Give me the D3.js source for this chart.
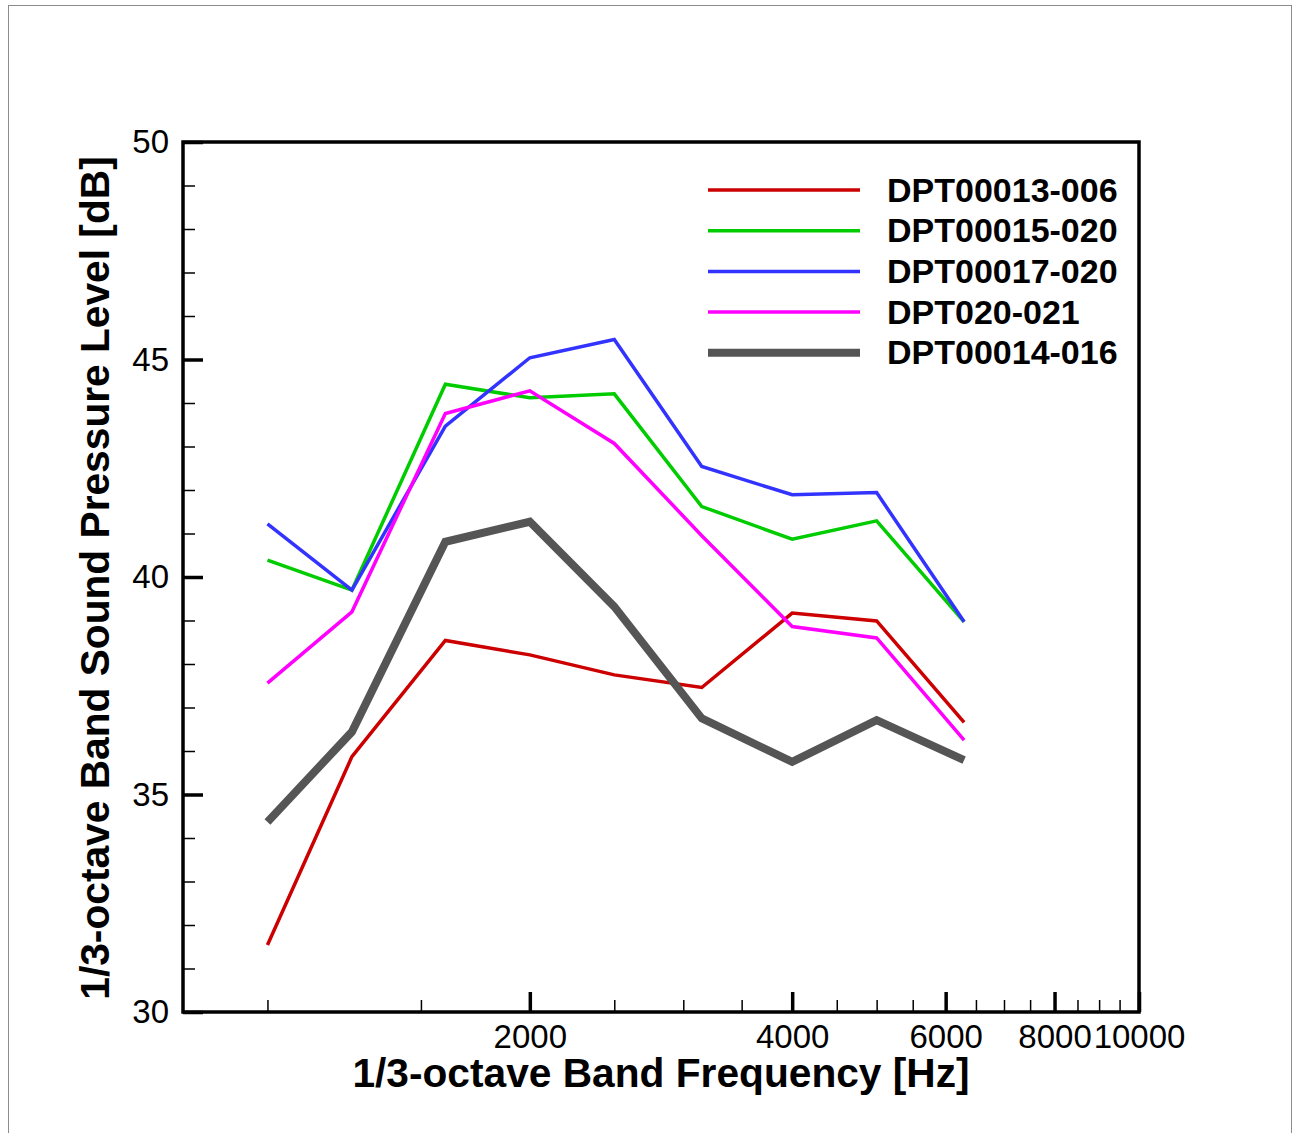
<!DOCTYPE html>
<html>
<head>
<meta charset="utf-8">
<script src="https://cdn.jsdelivr.net/npm/d3@7"></script>
<style>
  body { margin: 0; background: #fff; }
  svg { display: block; font-family: "Liberation Sans", Arial, sans-serif; }
  .tick text { font-size: 33px; fill: #000; }
</style>
</head>
<body>
<svg id="chart" width="1294" height="1133"></svg>
<script>
// 1/3-octave band centre frequencies [Hz]
var freqs = [1000, 1250, 1600, 2000, 2500, 3150, 4000, 5000, 6300];

// sound pressure level per band [dB]
var dpt13_006 = [31.54, 35.87, 38.54, 38.21, 37.75, 37.46, 39.17, 38.99, 36.66];
var dpt15_020 = [40.39, 39.70, 44.43, 44.12, 44.21, 41.62, 40.87, 41.29, 38.97];
var dpt17_020 = [41.22, 39.70, 43.47, 45.04, 45.46, 42.54, 41.89, 41.94, 38.97];
var dpt20_021 = [37.56, 39.20, 43.76, 44.28, 43.07, 40.95, 38.86, 38.60, 36.25];
var dpt14_016 = [34.37, 36.44, 40.81, 41.27, 39.32, 36.75, 35.75, 36.71, 35.79];

var seriesNames = ["DPT00013-006", "DPT00015-020", "DPT00017-020", "DPT020-021", "DPT00014-016"];
var seriesValues = [dpt13_006, dpt15_020, dpt17_020, dpt20_021, dpt14_016];
var seriesColors = ["#cc0000", "#00cc00", "#3333ff", "#ff00ff", "#555555"];
var seriesWidths = [3.5, 3.5, 3.5, 3.5, 8];

var xMajorTicks = [2000, 4000, 6000, 8000, 10000];
var xMinorTicks = d3.range(1000, 10000, 500).filter(function(f) { return f % 2000 !== 0; });
var yMajorTicks = [30, 35, 40, 45, 50];
var yMinorTicks = d3.range(31, 50).filter(function(v) { return v % 5 !== 0; });

(function() {
  var svg = d3.select("#chart");

  var left = 183, right = 1139, top = 142, bottom = 1012;

  var x = d3.scaleLog()
    .domain([800, 10000])
    .range([left, right]);

  var y = d3.scaleLinear()
    .domain([30, 50])
    .range([bottom, top]);

  // outer page border
  svg.append("rect")
    .attr("x", 8.5).attr("y", 5.5)
    .attr("width", 1283).attr("height", 1140)
    .attr("fill", "none")
    .attr("stroke", "#8c8c8c")
    .attr("stroke-width", 1);

  // minor ticks
  svg.append("g")
    .attr("transform", "translate(0," + bottom + ")")
    .call(d3.axisBottom(x).tickValues(xMinorTicks).tickSize(-12).tickFormat(""))
    .call(function(g) { g.select(".domain").remove(); })
    .selectAll("line").attr("stroke-width", 1.5);

  svg.append("g")
    .attr("transform", "translate(" + left + ",0)")
    .call(d3.axisLeft(y).tickValues(yMinorTicks).tickSize(-12).tickFormat(""))
    .call(function(g) { g.select(".domain").remove(); })
    .selectAll("line").attr("stroke-width", 1.5);

  // major ticks with labels
  svg.append("g")
    .attr("transform", "translate(0," + bottom + ")")
    .call(d3.axisBottom(x).tickValues(xMajorTicks).tickSize(-20).tickPadding(13).tickFormat(d3.format("d")))
    .call(function(g) { g.select(".domain").remove(); })
    .selectAll("line").attr("stroke-width", 3.5);

  svg.append("g")
    .attr("transform", "translate(" + left + ",0)")
    .call(d3.axisLeft(y).tickValues(yMajorTicks).tickSize(-20).tickPadding(14).tickFormat(d3.format("d")))
    .call(function(g) { g.select(".domain").remove(); })
    .selectAll("line").attr("stroke-width", 3.5);

  // series lines
  var line = d3.line()
    .x(function(d) { return x(d.f); })
    .y(function(d) { return y(d.v); });

  seriesValues.forEach(function(vals, i) {
    var pts = freqs.map(function(f, j) { return { f: f, v: vals[j] }; });
    svg.append("path")
      .datum(pts)
      .attr("fill", "none")
      .attr("stroke", seriesColors[i])
      .attr("stroke-width", seriesWidths[i])
      .attr("stroke-linejoin", "miter")
      .attr("d", line);
  });

  // frame
  svg.append("rect")
    .attr("x", left).attr("y", top)
    .attr("width", right - left).attr("height", bottom - top)
    .attr("fill", "none")
    .attr("stroke", "#000")
    .attr("stroke-width", 3.5);

  // legend
  var legend = svg.append("g");
  seriesNames.forEach(function(name, i) {
    var ly = 190 + i * 40.7;
    legend.append("line")
      .attr("x1", 708).attr("x2", 860)
      .attr("y1", ly).attr("y2", ly)
      .attr("stroke", seriesColors[i])
      .attr("stroke-width", seriesWidths[i]);
    legend.append("text")
      .attr("x", 887).attr("y", ly + 11.5)
      .attr("font-size", 34)
      .attr("font-weight", "bold")
      .text(name);
  });

  // axis titles
  svg.append("text")
    .attr("x", 661).attr("y", 1087)
    .attr("text-anchor", "middle")
    .attr("font-size", 40.7)
    .attr("font-weight", "bold")
    .text("1/3-octave Band Frequency [Hz]");

  svg.append("text")
    .attr("transform", "translate(109,578) rotate(-90)")
    .attr("text-anchor", "middle")
    .attr("font-size", 40.7)
    .attr("font-weight", "bold")
    .text("1/3-octave Band Sound Pressure Level [dB]");
})();
</script>
</body>
</html>
